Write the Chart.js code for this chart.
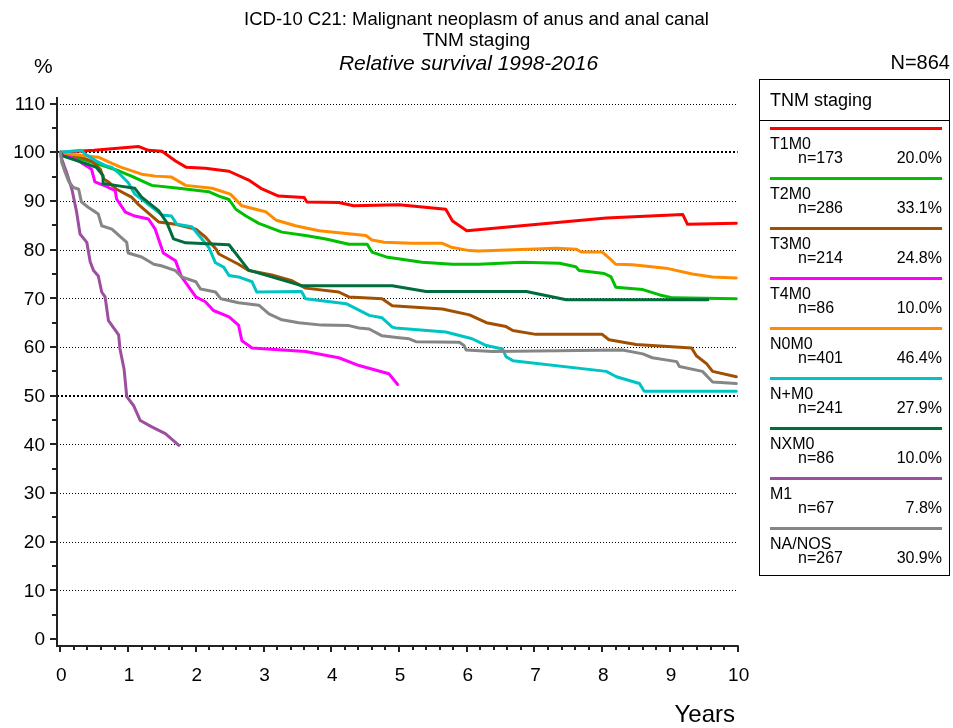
<!DOCTYPE html>
<html>
<head>
<meta charset="utf-8">
<title>Relative survival by TNM staging</title>
<script src="https://cdn.jsdelivr.net/npm/chart.js@4.4.1/dist/chart.umd.min.js"></script>
<style>
  body { margin: 0; background: #fff; font-family: "Liberation Sans", Arial, sans-serif; color: #000; }
  #wrap { position: relative; width: 953px; height: 728px; overflow: hidden; }
  #chart { position: absolute; left: 0; top: 0; }
  .t { position: absolute; white-space: nowrap; line-height: 1; }
  #legend { position: absolute; left: 759px; top: 79px; width: 189px; height: 495px; border: 1.5px solid #000; }
  #legend .head { position: absolute; left: 0; top: 0; width: 100%; height: 40px; border-bottom: 1.5px solid #000; }
  #legend .bar { position: absolute; left: 10px; width: 172px; height: 3px; }
  #legend .lbl { position: absolute; font-size: 16px; line-height: 1; white-space: nowrap; }
</style>
</head>
<body>
<div id="wrap">
  <canvas id="chart" width="953" height="728"></canvas>
  <div class="t" style="left:0;width:953px;text-align:center;top:10px;font-size:18.5px">ICD-10 C21: Malignant neoplasm of anus and anal canal</div>
  <div class="t" style="left:0;width:953px;text-align:center;top:29.5px;font-size:19px">TNM staging</div>
  <div class="t" style="left:0;width:937px;text-align:center;top:51.5px;font-size:21px;font-style:italic">Relative survival 1998-2016</div>
  <div class="t" style="left:34px;top:55px;font-size:21px">%</div>
  <div class="t" style="right:3px;top:52px;font-size:20px">N=864</div>
  <div class="t" style="right:218px;top:702px;font-size:24px">Years</div>
  <div id="legend">
    <div class="head"><span class="lbl" style="left:10px;top:10.5px;font-size:18px">TNM staging</span></div>
  </div>
</div>
<script>
// Groups, case counts and share of all cases
const groups = ["T1M0", "T2M0", "T3M0", "T4M0", "N0M0", "N+M0", "NXM0", "M1", "NA/NOS"];
const counts = [173, 286, 214, 86, 401, 241, 86, 67, 267];
const shares = ["20.0%", "33.1%", "24.8%", "10.0%", "46.4%", "27.9%", "10.0%", "7.8%", "30.9%"];
const colors = ["#ff0000", "#00c000", "#a05000", "#ff00ff", "#ff8c00", "#00c4c4", "#006e3c", "#9b4f9e", "#868686"];

// Relative survival curves: [years since diagnosis, %]
const t1m0 = [[0,100],[0.5,100.4],[1.15,101.2],[1.3,100.4],[1.5,100.2],[1.7,98.2],[1.86,96.9],[2.14,96.7],[2.49,96.1],[2.78,94.3],[2.96,92.6],[3.22,91.0],[3.6,90.7],[3.64,89.8],[4.11,89.7],[4.33,89.0],[5.0,89.2],[5.69,88.3],[5.79,85.9],[6.0,83.9],[8.06,86.5],[9.19,87.2],[9.26,85.2],[9.98,85.4]];
const t2m0 = [[0,100],[0.07,99.6],[0.41,98.2],[0.66,97.1],[0.86,96.2],[1.05,95.1],[1.35,93.2],[1.75,92.6],[2.19,91.9],[2.34,91.0],[2.49,90.3],[2.59,88.3],[2.74,86.9],[2.93,85.4],[3.27,83.6],[3.62,82.9],[3.92,82.2],[4.26,81.1],[4.53,81.1],[4.6,79.5],[4.81,78.5],[5.34,77.4],[5.79,77.0],[6.18,77.0],[6.82,77.4],[7.37,77.2],[7.61,76.5],[7.66,75.7],[8.03,75.1],[8.13,74.4],[8.2,72.3],[8.6,71.8],[8.85,70.7],[9.04,70.1],[9.98,69.9]];
const t3m0 = [[0,100],[0.27,99.2],[0.46,98.2],[0.59,96.5],[0.64,94.5],[0.71,93.9],[0.83,92.4],[1.05,90.8],[1.15,89.3],[1.45,85.7],[1.7,85.2],[2.0,84.2],[2.14,82.6],[2.3,80.1],[2.34,79.1],[2.63,77.0],[2.78,75.7],[3.12,74.8],[3.42,73.6],[3.62,72.1],[4.11,71.3],[4.26,70.3],[4.75,69.9],[4.9,68.5],[5.64,67.8],[6.04,66.6],[6.29,65.0],[6.58,64.2],[6.68,63.4],[7.02,62.6],[8.0,62.6],[8.1,61.5],[8.5,60.5],[9.32,59.8],[9.39,58.2],[9.54,56.6],[9.63,55.0],[9.98,53.9]];
const t4m0 = [[0,100],[0.27,98.2],[0.46,96.5],[0.51,93.9],[0.66,93.1],[0.81,92.1],[0.83,90.4],[0.96,87.7],[1.1,86.9],[1.3,86.3],[1.4,84.2],[1.52,79.3],[1.7,77.7],[1.79,74.4],[2.0,70.3],[2.14,69.3],[2.26,67.5],[2.49,66.2],[2.63,64.5],[2.68,61.3],[2.83,59.8],[3.62,59.1],[4.11,57.8],[4.41,56.2],[4.85,54.5],[4.98,52.3]];
const n0m0 = [[0,100],[0.16,99.6],[0.56,99.0],[0.76,97.7],[0.9,96.9],[1.2,95.5],[1.4,95.1],[1.64,94.9],[1.85,93.2],[2.24,92.6],[2.51,91.4],[2.68,89.0],[3.03,87.8],[3.18,86.1],[3.47,84.9],[3.82,83.9],[4.51,82.9],[4.6,82.0],[4.78,81.5],[5.19,81.3],[5.64,81.3],[5.77,80.5],[6.04,79.8],[6.18,79.7],[7.32,80.3],[7.62,80.1],[7.69,79.5],[8.0,79.5],[8.1,78.3],[8.2,77.0],[8.45,76.9],[8.94,76.2],[9.33,75.0],[9.63,74.4],[9.98,74.2]];
const npm0 = [[0,100],[0.31,100.4],[0.37,99.6],[0.53,98.2],[0.66,97.3],[0.76,96.9],[0.88,95.5],[1.0,93.8],[1.1,91.4],[1.25,89.8],[1.5,87.1],[1.64,86.9],[1.72,85.2],[1.94,84.7],[2.09,82.2],[2.19,80.5],[2.29,77.3],[2.41,76.4],[2.49,74.7],[2.63,74.4],[2.83,73.4],[2.9,71.3],[3.56,71.4],[3.62,69.9],[4.22,68.9],[4.56,66.5],[4.75,66.0],[4.9,64.1],[4.95,63.9],[5.69,63.1],[6.08,61.7],[6.29,60.3],[6.53,59.6],[6.58,58.0],[6.68,57.2],[8.06,55.0],[8.21,53.9],[8.55,52.5],[8.62,50.9],[9.98,50.9]];
const nxm0 = [[0,100],[0.04,99.2],[0.41,97.5],[0.53,96.9],[0.63,95.2],[0.63,93.6],[0.86,93.1],[1.1,92.6],[1.2,90.8],[1.45,88.0],[1.57,85.6],[1.67,82.2],[1.85,81.4],[2.49,81.0],[2.78,75.8],[3.12,74.4],[3.56,72.6],[4.9,72.6],[5.4,71.4],[6.88,71.4],[7.47,69.7],[9.56,69.7]];
const m1 = [[0,100],[0.02,98.6],[0.09,95.9],[0.17,92.4],[0.24,87.7],[0.29,83.2],[0.39,81.5],[0.44,77.5],[0.49,75.7],[0.56,74.6],[0.61,71.3],[0.66,70.3],[0.71,65.4],[0.86,62.5],[0.88,59.6],[0.94,55.5],[0.98,49.8],[1.08,48.0],[1.18,44.9],[1.35,43.6],[1.55,42.2],[1.75,39.8]];
const naNos = [[0,100],[0.02,97.9],[0.07,95.9],[0.12,94.1],[0.19,92.8],[0.27,92.4],[0.31,89.8],[0.41,88.7],[0.56,87.3],[0.61,84.9],[0.76,84.2],[0.98,81.5],[1.0,79.3],[1.2,78.5],[1.38,77.0],[1.49,76.7],[1.7,75.7],[1.79,74.4],[2.0,73.4],[2.07,71.9],[2.29,71.3],[2.37,69.9],[2.63,69.1],[2.93,68.6],[3.08,66.8],[3.27,65.6],[3.52,65.0],[3.86,64.5],[4.26,64.4],[4.41,63.9],[4.56,63.7],[4.75,62.3],[5.0,61.9],[5.15,61.7],[5.25,61.1],[5.89,61.0],[5.96,60.3],[5.99,59.4],[6.38,59.1],[8.3,59.4],[8.6,58.6],[8.74,57.8],[9.1,57.0],[9.14,56.0],[9.48,55.0],[9.63,52.8],[9.98,52.5]];
const curves = [t1m0, t2m0, t3m0, t4m0, n0m0, npm0, nxm0, m1, naNos];

// Axis ticks
const yTicks = [0, 10, 20, 30, 40, 50, 60, 70, 80, 90, 100, 110];
const xTicks = [0, 1, 2, 3, 4, 5, 6, 7, 8, 9, 10];
const boldGrid = [50, 100];

// --- legend box ---
const legend = document.getElementById("legend");
groups.forEach((g, i) => {
  const top = 47 + i * 50;
  legend.insertAdjacentHTML("beforeend",
    `<div class="bar" style="top:${top}px;background:${colors[i]}"></div>` +
    `<span class="lbl" style="left:10px;top:${top + 8.5}px">${g}</span>` +
    `<span class="lbl" style="left:38px;top:${top + 22.5}px">n=${counts[i]}</span>` +
    `<span class="lbl" style="right:7px;top:${top + 22.5}px">${shares[i]}</span>`);
});

// --- axes, ticks and dotted grid drawn off the chart's own scales ---
const axesPlugin = {
  id: "survAxes",
  beforeDatasetsDraw(chart) {
    const { ctx, chartArea: a, scales: { x, y } } = chart;
    ctx.save();
    ctx.strokeStyle = "#000";
    yTicks.filter((v) => v > 0).forEach((v) => {
      const bold = boldGrid.includes(v);
      const py = Math.round(y.getPixelForValue(v)) + (bold ? 0 : 0.5);
      ctx.lineWidth = bold ? 2 : 1;
      ctx.setLineDash(bold ? [2, 2] : [1, 2]);
      ctx.beginPath();
      ctx.moveTo(a.left, py);
      ctx.lineTo(x.getPixelForValue(10), py);
      ctx.stroke();
    });
    ctx.restore();
  },
  afterDraw(chart) {
    const { ctx, chartArea: a, scales: { x, y } } = chart;
    ctx.save();
    ctx.strokeStyle = "#222";
    ctx.lineWidth = 2;
    // y axis with ticks every 5
    ctx.beginPath();
    ctx.moveTo(a.left, a.top);
    ctx.lineTo(a.left, a.bottom + 1);
    for (let v = 0; v <= 110; v += 5) {
      const py = Math.round(y.getPixelForValue(v));
      ctx.moveTo(a.left - (v % 10 === 0 ? 7 : 5), py);
      ctx.lineTo(a.left, py);
    }
    // x axis with ticks every 0.2 years
    ctx.moveTo(a.left, a.bottom);
    ctx.lineTo(x.getPixelForValue(10) + 1, a.bottom);
    for (let k = 0; k <= 50; k++) {
      const px = Math.round(x.getPixelForValue(k / 5));
      ctx.moveTo(px, a.bottom);
      ctx.lineTo(px, a.bottom + (k % 5 === 0 ? 6 : 4));
    }
    ctx.stroke();

    ctx.fillStyle = "#000";
    ctx.font = '19px "Liberation Sans", Arial, sans-serif';
    ctx.textAlign = "right";
    ctx.textBaseline = "middle";
    yTicks.forEach((v) => ctx.fillText(String(v), 45, y.getPixelForValue(v) + 1));
    ctx.textAlign = "center";
    xTicks.forEach((v) => ctx.fillText(String(v), x.getPixelForValue(v) + 1, 676));
    ctx.restore();
  }
};

new Chart(document.getElementById("chart"), {
  type: "line",
  data: {
    datasets: groups.map((g, i) => ({
      label: g,
      data: curves[i].map(([yr, pct]) => ({ x: yr, y: pct })),
      borderColor: colors[i],
      borderWidth: 3,
      borderCapStyle: "round",
      borderJoinStyle: "round",
      pointRadius: 0,
      tension: 0,
      fill: false,
      order: groups.length - i
    }))
  },
  options: {
    responsive: false,
    animation: false,
    layout: { padding: { left: 57, right: 215, top: 97, bottom: 82 } },
    scales: {
      x: { type: "linear", min: -0.05, max: 10.005, display: false },
      y: { type: "linear", min: -1.4, max: 111.35, display: false }
    },
    plugins: { legend: { display: false }, tooltip: { enabled: false } }
  },
  plugins: [axesPlugin]
});
</script>
</body>
</html>
